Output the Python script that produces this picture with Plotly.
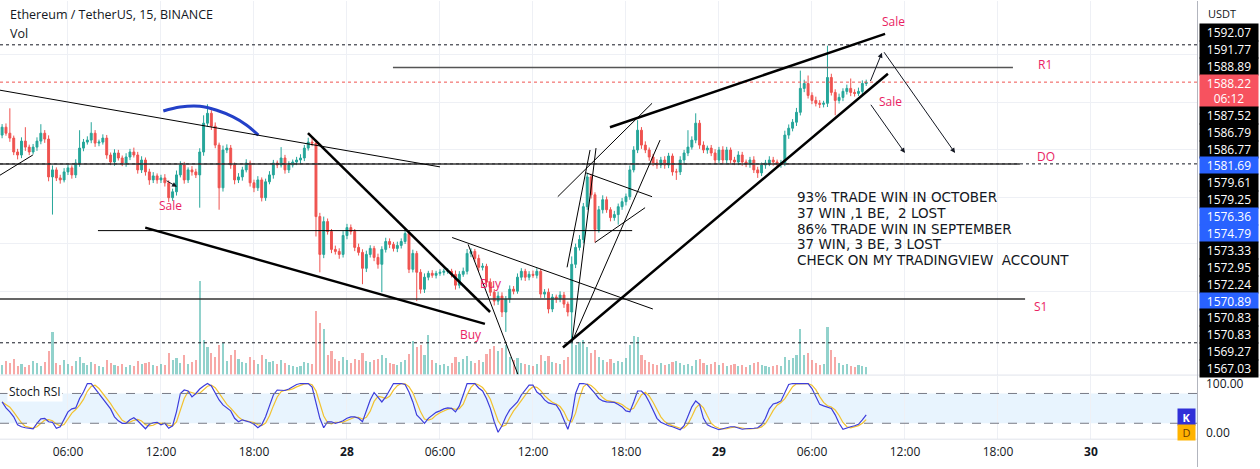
import plotly.graph_objects as go
import pandas as pd

# ---------------- data ----------------
times = pd.date_range("2022-10-27 01:45", periods=224, freq="15min")
first_open = 1583.99

close = [
    1584.62, 1584.14, 1583.75, 1582.64, 1582.40, 1583.51, 1583.03, 1582.64, 1583.03, 1583.51,
    1584.14, 1583.67, 1580.65, 1581.21, 1580.57, 1580.41, 1581.05, 1581.37, 1580.81, 1581.76,
    1582.95, 1583.43, 1583.59, 1584.14, 1583.35, 1583.43, 1583.75, 1582.40, 1581.84, 1582.56,
    1582.16, 1581.76, 1582.24, 1582.64, 1582.40, 1581.21, 1582.00, 1581.05, 1580.41, 1580.73,
    1580.41, 1580.57, 1580.18, 1578.99, 1579.46, 1580.81, 1581.60, 1580.41, 1581.21, 1581.05,
    1580.81, 1582.64, 1584.94, 1585.73, 1584.70, 1583.19, 1579.78, 1582.80, 1582.95, 1581.60,
    1580.41, 1580.65, 1581.21, 1581.76, 1580.18, 1579.78, 1580.41, 1578.99, 1580.26, 1580.81,
    1581.76, 1581.60, 1582.16, 1581.21, 1581.60, 1581.84, 1582.00, 1582.16, 1582.95, 1583.43,
    1583.35, 1577.48, 1574.46, 1577.08, 1576.29, 1574.86, 1574.70, 1574.46, 1575.97, 1576.60,
    1576.29, 1575.02, 1574.62, 1573.35, 1574.46, 1574.94, 1574.22, 1573.67, 1574.86, 1575.49,
    1575.26, 1574.94, 1575.18, 1575.49, 1576.13, 1573.27, 1574.54, 1573.03, 1571.68, 1572.64,
    1572.95, 1572.79, 1572.95, 1573.03, 1573.11, 1573.11, 1572.87, 1572.00, 1572.87, 1573.11,
    1574.54, 1574.70, 1574.14, 1573.43, 1573.51, 1572.24, 1571.44, 1570.73, 1571.13, 1569.86,
    1570.89, 1571.68, 1571.52, 1572.64, 1573.11, 1572.64, 1572.87, 1572.79, 1573.11, 1571.29,
    1571.44, 1570.10, 1571.05, 1570.89, 1571.21, 1570.49, 1569.86, 1573.67, 1575.02, 1575.65,
    1578.27, 1580.65, 1579.22, 1576.45, 1578.03, 1578.83, 1578.03, 1577.40, 1577.64, 1578.27,
    1578.67, 1579.07, 1581.21, 1582.80, 1584.38, 1583.19, 1582.80, 1582.24, 1581.76, 1581.60,
    1582.00, 1581.60, 1582.32, 1581.05, 1581.05, 1582.00, 1582.56, 1583.03, 1583.59, 1584.94,
    1583.19, 1582.80, 1582.95, 1582.56, 1582.00, 1582.80, 1582.00, 1582.80, 1582.00, 1581.84,
    1582.40, 1581.84, 1581.68, 1582.00, 1581.21, 1580.97, 1581.60, 1581.76, 1582.00, 1581.84,
    1581.68, 1581.76, 1583.99, 1584.54, 1585.02, 1585.81, 1587.72, 1588.11, 1587.16, 1586.76,
    1586.53, 1586.45, 1586.53, 1588.59, 1587.40, 1586.76, 1587.00, 1587.48, 1587.72, 1587.40,
    1587.32, 1587.48, 1588.11, 1588.22,
]

upper_wick = [
    0.25, 0.30, 1.99, 0.20, 0.25, 0.30, 1.11, 0.20, 0.25, 0.30,
    0.72, 0.25, 0.30, 0.35, 0.20, 0.25, 0.30, 0.25, 0.20, 0.30,
    1.43, 0.25, 0.30, 0.88, 0.25, 0.20, 0.30, 0.25, 0.20, 0.30,
    0.25, 0.20, 0.30, 0.25, 0.35, 0.25, 0.30, 0.20, 0.25, 0.30,
    0.20, 0.25, 0.30, 0.20, 0.25, 0.35, 0.30, 0.25, 0.20, 0.30,
    0.25, 0.30, 0.63, 0.72, 0.25, 0.30, 0.20, 0.35, 0.30, 0.25,
    0.20, 0.30, 0.25, 0.30, 0.20, 0.25, 0.30, 0.20, 0.25, 0.30,
    0.25, 0.20, 0.87, 0.25, 0.30, 0.20, 0.25, 0.30, 0.25, 0.35,
    0.30, 0.25, 0.30, 0.40, 0.25, 0.20, 0.30, 0.25, 0.35, 0.30,
    0.25, 0.20, 0.30, 0.25, 0.30, 0.25, 0.20, 0.30, 0.25, 0.30,
    0.25, 0.20, 0.30, 0.25, 0.35, 0.25, 0.30, 0.20, 0.25, 0.30,
    0.20, 0.25, 0.20, 0.25, 0.20, 0.25, 0.20, 0.30, 0.25, 0.30,
    0.35, 0.25, 0.20, 0.30, 0.25, 0.20, 0.30, 0.25, 0.35, 0.30,
    0.25, 0.30, 0.25, 0.30, 0.25, 0.20, 0.25, 0.30, 0.25, 0.20,
    0.25, 0.30, 0.25, 0.20, 0.30, 0.25, 0.20, 0.63, 0.30, 0.35,
    0.30, 0.32, 0.25, 0.20, 0.30, 0.35, 0.25, 0.20, 0.30, 0.25,
    0.30, 0.25, 0.35, 0.30, 0.80, 0.25, 0.30, 0.20, 0.25, 0.30,
    0.25, 0.30, 0.25, 0.20, 0.25, 0.30, 0.25, 1.35, 0.30, 0.79,
    0.25, 0.30, 0.20, 0.25, 0.30, 0.25, 0.30, 0.25, 0.20, 0.25,
    0.30, 0.25, 0.20, 0.25, 0.30, 0.25, 0.20, 0.25, 0.30, 0.25,
    0.20, 0.25, 0.35, 0.30, 0.25, 0.35, 1.42, 0.30, 0.64, 0.25,
    0.30, 0.25, 0.20, 2.54, 0.30, 0.25, 0.30, 0.25, 0.30, 0.79,
    0.25, 0.30, 0.25, 0.20,
]

lower_wick = [
    0.25, 0.20, 0.30, 0.25, 0.35, 0.25, 0.30, 0.25, 0.20, 0.30,
    0.25, 0.30, 0.35, 3.01, 0.25, 0.30, 0.20, 0.25, 0.30, 0.25,
    0.30, 0.25, 0.20, 0.25, 0.30, 0.25, 0.20, 0.30, 0.25, 0.30,
    0.20, 0.25, 0.30, 0.25, 0.20, 0.30, 0.25, 0.30, 0.39, 0.25,
    0.30, 0.25, 0.30, 0.35, 0.25, 0.30, 0.20, 0.30, 0.25, 0.30,
    0.25, 2.62, 0.30, 0.25, 0.30, 0.25, 1.75, 0.30, 0.25, 0.30,
    0.35, 0.25, 0.30, 0.20, 0.30, 0.35, 0.25, 0.30, 0.25, 0.20,
    0.30, 0.25, 0.20, 0.30, 0.25, 0.20, 0.25, 0.30, 0.25, 0.20,
    0.25, 1.59, 1.43, 0.30, 0.25, 0.30, 0.25, 0.35, 0.25, 0.30,
    0.25, 0.30, 0.25, 1.27, 0.30, 0.25, 0.30, 0.35, 2.23, 0.25,
    0.30, 0.25, 0.30, 0.25, 0.20, 0.30, 0.25, 2.30, 0.35, 0.30,
    0.25, 0.20, 0.25, 0.20, 0.25, 0.20, 0.25, 0.35, 0.25, 0.20,
    0.25, 0.30, 0.25, 0.30, 0.25, 0.35, 0.30, 0.35, 0.30, 0.40,
    1.59, 0.30, 0.25, 0.20, 0.25, 0.30, 0.25, 0.20, 0.25, 0.30,
    0.30, 0.35, 0.25, 0.30, 0.25, 0.30, 0.35, 2.14, 0.30, 0.25,
    0.30, 0.25, 0.30, 1.04, 0.25, 0.30, 0.25, 0.30, 0.25, 0.80,
    0.25, 0.30, 0.25, 0.20, 0.25, 0.30, 0.25, 0.30, 0.25, 0.30,
    0.25, 0.30, 0.25, 0.30, 0.64, 0.25, 0.30, 0.25, 0.20, 0.25,
    0.30, 0.25, 0.30, 0.25, 0.30, 0.25, 0.30, 0.25, 0.30, 0.25,
    0.25, 0.30, 0.25, 0.30, 0.25, 0.40, 0.25, 0.30, 0.25, 0.30,
    0.25, 0.30, 0.25, 0.30, 0.25, 0.30, 0.25, 0.30, 0.25, 0.30,
    0.25, 0.30, 0.25, 0.30, 0.25, 1.19, 0.25, 0.30, 0.25, 0.30,
    0.25, 0.20, 0.25, 0.20,
]

volume = [
    100, 140, 120, 160, 90, 110, 80, 100, 140, 120,
    90, 130, 240, 430, 120, 100, 150, 110, 90, 140,
    180, 120, 100, 130, 110, 90, 80, 150, 120, 100,
    90, 110, 80, 100, 90, 140, 110, 120, 130, 100,
    90, 110, 100, 220, 150, 170, 120, 200, 110, 130,
    150, 940, 350, 280, 220, 180, 300, 320, 140, 200,
    250, 160, 130, 120, 180, 150, 110, 200, 160, 130,
    140, 110, 150, 120, 100, 90, 80, 90, 130, 120,
    110, 640, 520, 460, 200, 240, 160, 140, 180, 150,
    120, 160, 150, 220, 140, 130, 150, 160, 200, 170,
    120, 110, 100, 130, 150, 210, 340, 280, 300, 200,
    400, 150, 120, 100, 110, 90, 120, 180, 130, 160,
    190, 140, 120, 150, 130, 210, 260, 290, 240, 270,
    300, 180, 150, 170, 120, 110, 100, 90, 110, 200,
    140, 190, 130, 120, 110, 150, 180, 390, 300, 330,
    350, 280, 220, 250, 180, 150, 130, 160, 120, 140,
    130, 170, 300, 390, 380, 200, 150, 130, 110, 100,
    120, 100, 110, 130, 140, 120, 100, 110, 90, 150,
    160, 120, 100, 110, 130, 100, 120, 90, 100, 110,
    90, 100, 80, 100, 120, 130, 100, 90, 80, 90,
    100, 90, 180, 150, 170, 200, 460, 200, 220, 150,
    120, 100, 110, 480, 250, 180, 120, 100, 110, 90,
    80, 100, 90, 80,
]

stoch_k = [
    63, 51, 43, 33, 17, 13, 11, 10, 9, 20,
    29, 30, 23, 22, 10, 13, 29, 43, 49, 51,
    70, 83, 100, 100, 90, 80, 70, 60, 49, 33,
    25, 20, 20, 27, 31, 25, 18, 9, 18, 21,
    22, 17, 20, 10, 15, 43, 80, 87, 85, 73,
    80, 89, 95, 100, 95, 80, 67, 57, 50, 45,
    30, 23, 27, 25, 22, 18, 11, 17, 33, 55,
    77, 87, 87, 86, 89, 93, 98, 100, 100, 100,
    93, 63, 30, 11, 23, 23, 20, 22, 25, 30,
    33, 33, 30, 23, 43, 67, 82, 73, 63, 73,
    87, 100, 100, 100, 98, 83, 63, 37, 29, 20,
    30, 37, 42, 45, 49, 51, 50, 43, 55, 77,
    100, 100, 100, 91, 85, 70, 50, 23, 2, 15,
    33, 47, 55, 63, 77, 87, 97, 97, 83, 77,
    67, 61, 59, 57, 45, 27, 8, 33, 80, 100,
    100, 98, 90, 80, 70, 65, 63, 63, 62, 58,
    53, 45, 43, 63, 85, 85, 77, 63, 47, 30,
    22, 18, 15, 13, 10, 7, 15, 33, 53, 65,
    58, 30, 17, 13, 10, 7, 9, 11, 13, 13,
    10, 8, 9, 9, 10, 11, 17, 30, 49, 59,
    61, 65, 83, 98, 100, 100, 100, 100, 100, 90,
    73, 58, 55, 53, 50, 37, 20, 8, 11, 13,
    15, 18, 27, 37,
]

# price-scale labels on the right axis (text, kind)
axis_labels = [
    ("1592.07", "k"), ("1591.77", "k"), ("1588.89", "k"), ("1588.22", "r"),
    ("1587.52", "k"), ("1586.79", "k"), ("1586.77", "k"), ("1581.69", "b"),
    ("1579.61", "k"), ("1579.25", "k"), ("1576.36", "b"), ("1574.79", "b"),
    ("1573.33", "k"), ("1572.95", "k"), ("1572.24", "k"), ("1570.89", "b"),
    ("1570.83", "k"), ("1570.83", "k"), ("1569.27", "k"), ("1567.03", "k"),
]
countdown = "06:12"

# hand-drawn trend lines: (t0, p0, t1, p1, width)
trend_lines = [
    ("2022-10-27 01:30", 1587.60, "2022-10-28 06:00", 1581.45, 1),
    ("2022-10-27 01:30", 1580.70, "2022-10-27 03:44", 1582.40, 1),
    ("2022-10-27 07:56", 1576.36, "2022-10-28 18:24", 1576.36, 1),
    ("2022-10-27 10:59", 1576.60, "2022-10-28 08:54", 1568.91, 2.5),
    ("2022-10-27 21:29", 1584.14, "2022-10-28 09:14", 1569.86, 2.5),
    ("2022-10-28 06:47", 1575.81, "2022-10-28 19:44", 1570.10, 1),
    ("2022-10-28 07:49", 1575.26, "2022-10-28 11:02", 1564.86, 1),
    ("2022-10-28 13:56", 1567.03, "2022-10-29 10:54", 1588.89, 2.5),
    ("2022-10-28 16:58", 1584.62, "2022-10-29 10:43", 1592.07, 2.5),
    ("2022-10-28 14:31", 1567.48, "2022-10-28 16:04", 1582.95, 1),
    ("2022-10-28 14:12", 1573.43, "2022-10-28 15:41", 1582.80, 1),
    ("2022-10-28 14:31", 1567.48, "2022-10-28 20:12", 1583.59, 1),
    ("2022-10-28 13:36", 1579.07, "2022-10-28 19:41", 1586.53, 1),
    ("2022-10-28 15:26", 1580.97, "2022-10-28 19:41", 1579.07, 1),
    ("2022-10-28 16:00", 1575.41, "2022-10-28 19:14", 1578.19, 1),
]
# levels: (name, price, t0, t1, colour)
levels = [
    ("R1", 1589.38, "2022-10-28 02:58", "2022-10-29 18:58", "#555555"),
    ("DO", 1581.69, "2022-10-27 01:30", "2022-10-29 19:25", "#333333"),
    ("S1", 1570.89, "2022-10-27 01:30", "2022-10-29 19:45", "#333333"),
]
dotted_levels = [(1591.20, "#131722"), (1588.22, "#ef5350"), (1581.69, "#131722"), (1567.40, "#131722")]

# arrows: (tail t, tail p, head t, head p)
arrows = [
    ("2022-10-27 12:16", 1580.41, "2022-10-27 13:02", 1579.86),
    ("2022-10-29 09:44", 1588.19, "2022-10-29 10:31", 1590.57),
    ("2022-10-29 10:35", 1590.73, "2022-10-29 15:14", 1582.56),
    ("2022-10-29 09:44", 1586.53, "2022-10-29 12:00", 1582.56),
]
arc_t = ["2022-10-27 12:09", "2022-10-27 13:14", "2022-10-27 14:31", "2022-10-27 15:36",
         "2022-10-27 16:39", "2022-10-27 17:32", "2022-10-27 18:17"]
arc_p = [1585.91, 1586.23, 1586.29, 1585.97, 1585.44, 1584.78, 1583.99]

info_lines = ["93% TRADE WIN IN OCTOBER", "37 WIN ,1 BE,\u00a0 2 LOST", "86% TRADE WIN IN SEPTEMBER",
              "37 WIN, 3 BE, 3 LOST", "CHECK ON MY TRADINGVIEW\u00a0 ACCOUNT"]

tick_vals = ["2022-10-27 06:00", "2022-10-27 12:00", "2022-10-27 18:00", "2022-10-28 00:00",
             "2022-10-28 06:00", "2022-10-28 12:00", "2022-10-28 18:00", "2022-10-29 00:00",
             "2022-10-29 06:00", "2022-10-29 12:00", "2022-10-29 18:00", "2022-10-30 00:00"]
tick_text = ["06:00", "12:00", "18:00", "<b>28</b>", "06:00", "12:00", "18:00", "<b>29</b>",
             "06:00", "12:00", "18:00", "<b>30</b>"]

# ---------------- derived ----------------
opens = [first_open] + close[:-1]
highs = [max(o, c) + u for o, c, u in zip(opens, close, upper_wick)]
lows = [min(o, c) - d for o, c, d in zip(opens, close, lower_wick)]
stoch_d = pd.Series(stoch_k, dtype=float).rolling(3, min_periods=1).mean().tolist()

GREEN, RED = "#26a69a", "#ef5350"
vol_colors = ["rgba(38,166,154,0.5)" if c >= o else "rgba(239,83,80,0.5)" for o, c in zip(opens, close)]

W, H = 1260, 469
PLOT_R = 1197
FONT = "Open Sans"


def px(x):
    return x / W


def py(y):
    return 1 - y / H


X_RANGE = ["2022-10-27 01:36:52", "2022-10-30 06:50:30"]
Y_RANGE = [1564.86, 1594.70]

fig = go.Figure()
fig.add_trace(go.Bar(x=times, y=volume, marker_color=vol_colors, marker_line_width=0,
                     width=15 * 60 * 1000 * 0.55, yaxis="y3", xaxis="x", hoverinfo="skip"))
fig.add_trace(go.Candlestick(
    x=times, open=opens, high=highs, low=lows, close=close,
    increasing=dict(line=dict(color=GREEN, width=1), fillcolor=GREEN),
    decreasing=dict(line=dict(color=RED, width=1), fillcolor=RED),
    whiskerwidth=0, xaxis="x", yaxis="y"))
fig.add_trace(go.Scatter(x=arc_t, y=arc_p, mode="lines", line=dict(color="#2340c8", width=3, shape="spline"),
                         xaxis="x", yaxis="y", hoverinfo="skip"))
fig.add_trace(go.Scatter(x=times, y=stoch_d, mode="lines", line=dict(color="#f2c230", width=1.2),
                         xaxis="x2", yaxis="y2"))
fig.add_trace(go.Scatter(x=times, y=stoch_k, mode="lines", line=dict(color="#3d3ddb", width=1.2),
                         xaxis="x2", yaxis="y2"))

shapes = []
# stoch band + dashed lines
shapes.append(dict(type="rect", xref="x2 domain", yref="y2", x0=0, x1=1, y0=20, y1=80,
                   fillcolor="rgba(33,150,243,0.10)", line=dict(width=0), layer="below"))
for lv in (20, 80):
    shapes.append(dict(type="line", xref="x2 domain", yref="y2", x0=0, x1=1, y0=lv, y1=lv,
                       line=dict(color="#787b86", width=1, dash="dash")))
# dotted horizontal lines
for p, col in dotted_levels:
    shapes.append(dict(type="line", xref="paper", yref="y", x0=0, x1=PLOT_R / W, y0=p, y1=p,
                       line=dict(color=col, width=1, dash="dot")))
# levels
for name, p, t0, t1, col in levels:
    shapes.append(dict(type="line", xref="x", yref="y", x0=t0, x1=t1, y0=p, y1=p,
                       line=dict(color=col, width=1.5)))
# trend lines
for t0, p0, t1, p1, w in trend_lines:
    shapes.append(dict(type="line", xref="x", yref="y", x0=t0, x1=t1, y0=p0, y1=p1,
                       line=dict(color="#000000", width=w)))
# pane separators / borders
shapes.append(dict(type="line", xref="paper", yref="paper", x0=0, x1=1, y0=py(376.5), y1=py(376.5),
                   line=dict(color="#e0e3eb", width=1)))
shapes.append(dict(type="line", xref="paper", yref="paper", x0=0, x1=PLOT_R / W, y0=py(441), y1=py(441),
                   line=dict(color="#e0e3eb", width=1)))
shapes.append(dict(type="line", xref="paper", yref="paper", x0=PLOT_R / W + 0.0004, x1=PLOT_R / W + 0.0004,
                   y0=0, y1=1, line=dict(color="#b2b5be", width=1)))

ann = []
# arrows
for t0, p0, t1, p1 in arrows:
    ann.append(dict(x=t1, y=p1, ax=t0, ay=p0, xref="x", yref="y", axref="x", ayref="y", text="",
                    showarrow=True, arrowhead=2, arrowsize=1, arrowwidth=1, arrowcolor="#131722"))

PINK = "#e91e63"
for txt, x, y in [("Sale", 170, 206), ("Sale", 893, 21), ("Sale", 890, 101), ("Buy", 491, 284),
                  ("Buy", 471, 336), ("R1", 1045, 64), ("DO", 1046, 157), ("S1", 1040, 307)]:
    ann.append(dict(x=px(x), y=py(y), xref="paper", yref="paper", text=txt, showarrow=False,
                    font=dict(family=FONT, size=12, color=PINK), xanchor="center", yanchor="middle"))

# info block, one text per line (16 px apart)
for k, line in enumerate(info_lines):
    ann.append(dict(x=px(795), y=py(197 + 16 * k), xref="paper", yref="paper", text=line,
                    showarrow=False, font=dict(family="DejaVu Sans", size=13.5, color="#131722"),
                    xanchor="left", yanchor="middle"))

ann.append(dict(x=px(8), y=py(14), xref="paper", yref="paper", text="Ethereum / TetherUS, 15, BINANCE",
                showarrow=False, font=dict(family=FONT, size=12.5, color="#131722"), xanchor="left",
                yanchor="middle"))
ann.append(dict(x=px(8), y=py(33), xref="paper", yref="paper", text="Vol",
                showarrow=False, font=dict(family=FONT, size=12.5, color="#131722"), xanchor="left",
                yanchor="middle"))
ann.append(dict(x=px(7), y=py(393), xref="paper", yref="paper", text="Stoch RSI", bgcolor="white",
                showarrow=False, font=dict(family=FONT, size=12, color="#131722"), xanchor="left", yanchor="middle"))
ann.append(dict(x=px(1206), y=py(13), xref="paper", yref="paper", text="USDT",
                showarrow=False, font=dict(family=FONT, size=11, color="#131722"), xanchor="left", yanchor="middle"))

# price axis labels
colors = {"k": "#000000", "b": "#2962ff", "r": "#f7525f"}
ypos = 32.0
for txt, kind in axis_labels:
    if kind == "r":
        ann.append(dict(x=px(1199), y=py(90.5), xref="paper", yref="paper", text=txt + "<br>" + countdown,
                        showarrow=False, bgcolor=colors[kind], width=58, height=32, borderpad=0,
                        font=dict(family=FONT, size=12, color="white"), xanchor="left", yanchor="middle",
                        align="center"))
        ypos = 115.0
        continue
    ann.append(dict(x=px(1199), y=py(ypos), xref="paper", yref="paper", text=txt,
                    showarrow=False, bgcolor=colors[kind], width=58, height=17, borderpad=0,
                    font=dict(family=FONT, size=12, color="white"), xanchor="left", yanchor="middle",
                    align="center"))
    ypos += 17.0

# K / D tags
ann.append(dict(x=px(1186), y=py(418.5), xref="paper", yref="paper", text="<b>K</b>", showarrow=False,
                bgcolor="#3030d8", width=17, height=16, borderpad=0,
                font=dict(family=FONT, size=11, color="white"), xanchor="center", yanchor="middle"))
ann.append(dict(x=px(1186), y=py(434), xref="paper", yref="paper", text="D", showarrow=False,
                bgcolor="#ffb300", width=17, height=15, borderpad=0,
                font=dict(family=FONT, size=11, color="#6b3a00"), xanchor="center", yanchor="middle"))

GRID = "#eef0f5"
fig.update_layout(
    width=W, height=H, margin=dict(l=0, r=0, t=0, b=0),
    paper_bgcolor="white", plot_bgcolor="white", showlegend=False,
    font=dict(family=FONT, color="#131722"),
    shapes=shapes, annotations=ann, bargap=0,
    xaxis=dict(domain=[0, PLOT_R / W], anchor="y", range=X_RANGE, type="date",
               tickvals=tick_vals, showticklabels=False, showgrid=True, gridcolor=GRID,
               rangeslider=dict(visible=False), zeroline=False, showline=False, ticks=""),
    yaxis=dict(domain=[py(376), 1], anchor="x", range=Y_RANGE, showticklabels=False,
               showgrid=True, gridcolor=GRID, tickvals=[1571.5, 1575.3, 1579.0, 1582.8, 1586.6, 1590.4],
               zeroline=False, showline=False, ticks=""),
    yaxis3=dict(overlaying="y", range=[0, 3760], visible=False, showgrid=False),
    xaxis2=dict(domain=[0, PLOT_R / W], anchor="y2", range=X_RANGE, type="date",
                tickvals=tick_vals, ticktext=tick_text, showgrid=True, gridcolor=GRID,
                tickfont=dict(family=FONT, size=12, color="#131722"), ticks="",
                ticklabelstandoff=4, zeroline=False, showline=False),
    yaxis2=dict(domain=[py(441), py(377)], anchor="x2", range=[-12, 116], side="right",
                tickvals=[0, 100], ticktext=["0.00", "100.00"], showgrid=False, zeroline=False,
                tickfont=dict(family=FONT, size=12, color="#131722"), ticks="", ticklabelstandoff=8,
                showline=False),
)

fig.write_html("out.html")
